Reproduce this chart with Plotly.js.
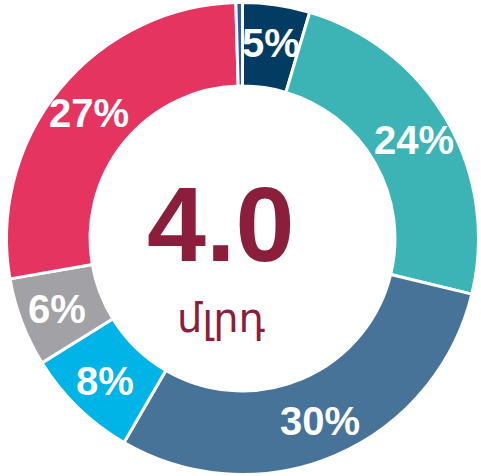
<!DOCTYPE html>
<html>
<head>
<meta charset="utf-8">
<script src="https://cdn.plot.ly/plotly-3.0.1.min.js"></script>
<style>html,body{margin:0;padding:0;background:#fff;}#chart{width:481px;height:476px;}</style>
</head>
<body>
<div id="chart"></div>
<script>
// Data
const categories = ['Slice 1', 'Slice 2', 'Slice 3', 'Slice 4', 'Slice 5', 'Slice 6', 'Slice 7'];
const shares = [4.6, 24.2, 29.6, 7.8, 6.1, 27.3, 0.45];
const sliceColors = ['#033c63', '#3cb4b6', '#487398', '#00b4e8', '#a2a2a6', '#e63461', '#2a5da6'];
const centerValue = '4.0';
const centerUnit = 'մլրդ';

const W = 481, H = 476;
const cx = 242.5, cyTop = 238.5, R = 236;
const cy = H - cyTop;
const labelR = 198;

const total = shares.reduce((a, b) => a + b, 0);
const annotations = [];
let cum = 0;
shares.forEach((v) => {
  const mid = (cum + v / 2) / total * 2 * Math.PI;
  cum += v;
  if (v < 1) return;
  const px = cx + labelR * Math.sin(mid);
  const py = cy + labelR * Math.cos(mid);
  annotations.push({
    x: px / W, y: py / H, xref: 'paper', yref: 'paper',
    text: Math.round(v / total * 100) + '%',
    showarrow: false, xanchor: 'center', yanchor: 'middle',
    font: {family: 'Liberation Sans, Arial, sans-serif', size: 40, color: '#ffffff', weight: 'bold'}
  });
});
annotations.push({
  x: 220 / W, y: (H - 224) / H, xref: 'paper', yref: 'paper',
  text: '<b>' + centerValue + '</b>', showarrow: false, xanchor: 'center', yanchor: 'middle',
  font: {family: 'Liberation Sans, Arial, sans-serif', size: 106, color: '#8b1f3b'}
});
annotations.push({
  x: 221 / W, y: (H - 318) / H, xref: 'paper', yref: 'paper',
  text: centerUnit, showarrow: false, xanchor: 'center', yanchor: 'middle',
  font: {family: 'Liberation Sans, Arial, DejaVu Sans, sans-serif', size: 40, color: '#8b1f3b'}
});

const trace = {
  type: 'pie',
  labels: categories,
  values: shares,
  sort: false,
  direction: 'clockwise',
  rotation: 0,
  hole: 0.646,
  textinfo: 'none',
  hoverinfo: 'none',
  marker: {colors: sliceColors, line: {color: '#ffffff', width: 3}},
  domain: {x: [(cx - R) / W, (cx + R) / W], y: [(cy - R) / H, (cy + R) / H]}
};

const layout = {
  width: W, height: H,
  margin: {l: 0, r: 0, t: 0, b: 0},
  showlegend: false,
  paper_bgcolor: '#ffffff',
  annotations: annotations
};

Plotly.newPlot('chart', [trace], layout, {displayModeBar: false, staticPlot: true});
</script>
</body>
</html>
